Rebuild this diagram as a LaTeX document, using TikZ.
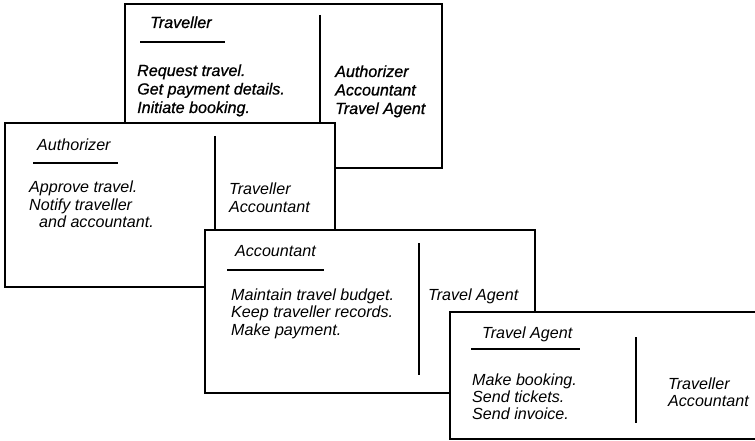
\documentclass[tikz,border=0pt]{standalone}
\usepackage{fontspec}
\setmainfont{Liberation Sans}
\newfontfamily\heavyfont[FakeBold=0.8]{Liberation Sans}
\begin{document}
\begin{tikzpicture}[x=1pt,y=-1pt,
  card/.style={draw=black,fill=white,line width=1.8pt},
  divider/.style={line width=1.4pt},
  rulebar/.style={line width=1.3pt},
  txt/.style={anchor=base west,inner sep=0pt,font=\fontsize{16.1}{18}\selectfont\itshape},
  heavytxt/.style={anchor=base west,inner sep=0pt,font=\fontsize{16.1}{18}\selectfont\heavyfont\itshape}]
\useasboundingbox (0,0) rectangle (755,441);

% Traveller card
\draw[card] (125,4) rectangle (442,168);
\draw[divider] (320,15) -- (320,150);
\node[heavytxt] (travT) at (150,28) {Traveller};
\draw[rulebar] (140,42) -- (225,42);
\node[heavytxt] (travR1) at (137,76) {Request travel.};
\node[heavytxt] (travR2) at (137,94.5) {Get payment details.};
\node[heavytxt] (travR3) at (137,113) {Initiate booking.};
\node[heavytxt] (travC1) at (335,77) {Authorizer};
\node[heavytxt] (travC2) at (335,95.5) {Accountant};
\node[heavytxt] (travC3) at (335,114) {Travel Agent};

% Authorizer card
\draw[card] (5,123) rectangle (335,287);
\draw[divider] (215,136) -- (215,270);
\node[txt] (authT) at (37,150) {Authorizer};
\draw[rulebar] (33,163) -- (118,163);
\node[txt] (authR1) at (29,192) {Approve travel.};
\node[txt] (authR2) at (29,210) {Notify traveller};
\node[txt] (authR3) at (39,227.5) {and accountant.};
\node[txt] (authC1) at (229,194) {Traveller};
\node[txt] (authC2) at (229,212) {Accountant};

% Accountant card
\draw[card] (205,230) rectangle (535,393);
\draw[divider] (419,243) -- (419,375);
\node[txt] (accT) at (235,256) {Accountant};
\draw[rulebar] (227,270) -- (324,270);
\node[txt] (accR1) at (231,300) {Maintain travel budget.};
\node[txt] (accR2) at (231,317.5) {Keep traveller records.};
\node[txt] (accR3) at (231,335) {Make payment.};
\node[txt] (accC1) at (428,300) {Travel Agent};

% Travel Agent card
\draw[card] (450,312) rectangle (762,439);
\draw[divider] (636,337) -- (636,423);
\node[txt] (agT) at (482,338.5) {Travel Agent};
\draw[rulebar] (471,349) -- (580,349);
\node[txt] (agR1) at (472,385) {Make booking.};
\node[txt] (agR2) at (472,402) {Send tickets.};
\node[txt] (agR3) at (472,419) {Send invoice.};
\node[txt] (agC1) at (668,389) {Traveller};
\node[txt] (agC2) at (668,406.5) {Accountant};
\end{tikzpicture}
\end{document}
